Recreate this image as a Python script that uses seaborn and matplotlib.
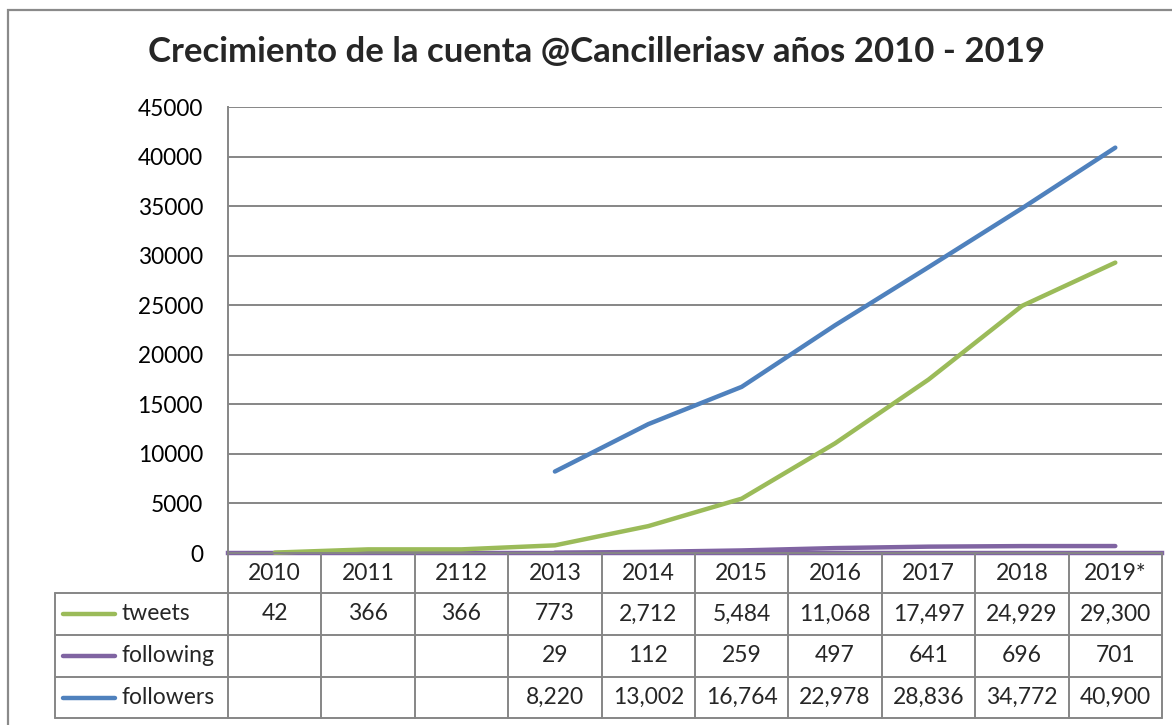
import numpy as np
import pandas as pd
import matplotlib
matplotlib.use("Agg")
import matplotlib.pyplot as plt
import seaborn as sns
from matplotlib.patches import Rectangle
from matplotlib.lines import Line2D

# ---- data ----
years = ["2010", "2011", "2112", "2013", "2014", "2015", "2016", "2017", "2018", "2019*"]
tweets = [42, 366, 366, 773, 2712, 5484, 11068, 17497, 24929, 29300]
following = [np.nan, np.nan, np.nan, 29, 112, 259, 497, 641, 696, 701]
followers = [np.nan, np.nan, np.nan, 8220, 13002, 16764, 22978, 28836, 34772, 40900]
series_names = ["tweets", "following", "followers"]
title = "Crecimiento de la cuenta @Cancilleriasv años 2010 - 2019"
yticks = list(range(0, 45001, 5000))

colors = {"tweets": "#9BBB59", "following": "#8064A2", "followers": "#4F81BD"}

sns.set_theme(style="white")
plt.rcParams["font.family"] = ["Lato", "DejaVu Sans"]

W, H = 1172, 725
fig = plt.figure(figsize=(W / 100, H / 100), dpi=100)

L, R, T, B = 228, 1162, 107, 553
ax = fig.add_axes([L / W, 1 - B / H, (R - L) / W, (B - T) / H])

df = pd.DataFrame({"pos": np.arange(len(years)), "tweets": tweets,
                   "following": following, "followers": followers})
long = df.melt(id_vars="pos", value_vars=series_names, var_name="serie", value_name="valor").dropna()
for name in ["following", "tweets", "followers"]:
    sub = long[long["serie"] == name]
    sns.lineplot(data=sub, x="pos", y="valor", ax=ax, color=colors[name], linewidth=3.2,
                 legend=False, zorder=3, clip_on=False)

ax.set_xlim(-0.5, len(years) - 0.5)
ax.set_ylim(0, 45000)
ax.set_yticks(yticks)
ax.set_yticklabels([str(v) for v in yticks], fontsize=16.3)
ax.set_xticks([])
ax.set_xlabel("")
ax.set_ylabel("")
ax.tick_params(axis="y", length=0, pad=18, colors="black")
ax.grid(axis="y", color="#868686", linewidth=1.4)
ax.set_axisbelow(True)
for s in ["top", "right"]:
    ax.spines[s].set_visible(False)
ax.spines["left"].set_color("#868686")
ax.spines["left"].set_linewidth(1.4)
ax.spines["bottom"].set_color(colors["following"])
ax.spines["bottom"].set_linewidth(3.2)
ax.spines["bottom"].set_zorder(2)

# ---- data table (pixel coordinates on figure) ----
def fx(px):
    return px / W

def fy(py):
    return 1 - py / H

gray = "#868686"
rows_y = [553, 593, 635, 677, 718]
col_w = (R - L) / len(years)
cols_x = [L + i * col_w for i in range(len(years) + 1)]
leg_left = 55

fig.add_artist(Line2D([fx(L), fx(R)], [fy(rows_y[0])] * 2, color=gray, lw=1.4))
for yy in rows_y[1:]:
    fig.add_artist(Line2D([fx(leg_left), fx(R)], [fy(yy)] * 2, color=gray, lw=1.4))
for xx in cols_x:
    fig.add_artist(Line2D([fx(xx)] * 2, [fy(rows_y[0]), fy(rows_y[-1])], color=gray, lw=1.4))
fig.add_artist(Line2D([fx(leg_left)] * 2, [fy(rows_y[1]), fy(rows_y[-1])], color=gray, lw=1.4))

fs = 16.5
for i, yr in enumerate(years):
    fig.text(fx(L + (i + 0.5) * col_w), fy((rows_y[0] + rows_y[1]) / 2), yr,
             ha="center", va="center", fontsize=fs)

table_vals = {"tweets": tweets, "following": following, "followers": followers}
for r, name in enumerate(series_names):
    yc = (rows_y[r + 1] + rows_y[r + 2]) / 2
    fig.add_artist(Line2D([fx(63), fx(115)], [fy(yc)] * 2, color=colors[name], lw=3.2))
    fig.text(fx(121), fy(yc), name, ha="left", va="center", fontsize=fs)
    for i, v in enumerate(table_vals[name]):
        if v is None or (isinstance(v, float) and np.isnan(v)):
            continue
        fig.text(fx(L + (i + 0.5) * col_w), fy(yc), f"{int(v):,}",
                 ha="center", va="center", fontsize=fs)

# title
fig.text(fx(597), fy(52), title, ha="center", va="center", fontsize=25, fontweight="bold")

# outer chart border
fig.add_artist(Rectangle((fx(8), fy(735)), fx(1200), fy(10) - fy(735), fill=False,
                         edgecolor="#8a8a8a", lw=1.6, transform=fig.transFigure))

fig.savefig("out.png", dpi=100, facecolor="white")
